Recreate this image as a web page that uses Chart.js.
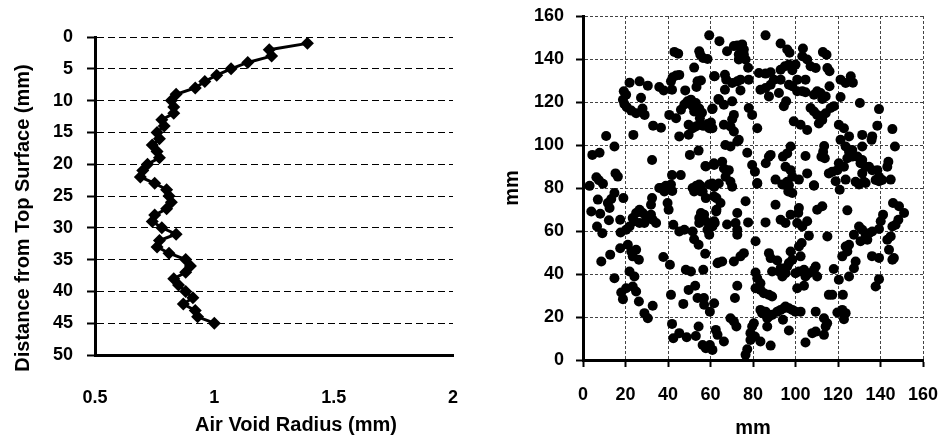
<!DOCTYPE html>
<html>
<head>
<meta charset="utf-8">
<script src="https://cdn.jsdelivr.net/npm/chart.js@4"></script>
<style>
  body { margin: 0; background: #fff; overflow: hidden; }
  .box { position: absolute; top: 0; height: 438px; }
  #leftBox { left: 0; width: 470px; }
  #rightBox { left: 470px; width: 473px; }
</style>
</head>
<body>
<div class="box" id="leftBox"><canvas id="profileChart"></canvas></div>
<div class="box" id="rightBox"><canvas id="voidChart"></canvas></div>
<script>
// left panel: air void radius vs depth
const depthMm = [1,2,3,4,5,6,7,8,9,10,11,12,13,14,15,16,17,18,19,20,21,22,23,24,25,
  26,27,28,29,30,31,32,33,34,35,36,37,38,39,40,41,42,43,44,45];
const radiusMm = [1.39,1.23,1.24,1.14,1.07,1.01,0.96,0.92,0.84,0.82,0.83,0.83,0.78,0.79,0.76,
  0.77,0.74,0.76,0.77,0.72,0.70,0.69,0.75,0.80,0.81,0.82,0.80,0.75,0.74,0.78,
  0.84,0.77,0.76,0.81,0.88,0.90,0.88,0.83,0.85,0.88,0.91,0.87,0.92,0.93,1.00];
const radiusTicks = [0.5, 1, 1.5, 2];
const depthTicks = [0, 5, 10, 15, 20, 25, 30, 35, 40, 45, 50];

// right panel: void centres in the section (mm)
const voidX = [59.4,43,44.8,54.7,55.2,56.5,58.6,52.3,61.7,42.2,
  43.8,45.3,41.4,53.9,55.5,53.4,21.9,26.6,30.5,35.9,
  38,41.9,48.1,19.2,20.3,27.3,63.7,18.8,19.5,20.6,
  22.7,25,28,29,46.1,47.7,49.2,50.8,51.6,52.3,
  53.1,54.7,56,55,61,40.6,43.8,49.7,51.6,53.1,
  54.7,56.6,58.6,60.2,60.9,59.4,33,36.7,45.3,49.7,
  23.7,10.9,14.8,4.4,7.8,50.3,54.4,32.5,57.8,61.7,
  41.9,46,15.3,16.4,6.3,7.5,9.4,3.1,36.7,39,
  41.4,42,54.7,55.5,59.4,61.7,
  64.2,85.9,93,96.1,97.2,103.5,112.9,114.6,67.8,71,
  72.6,74.9,75.7,73.3,75.7,73.3,76.5,77.7,78,62,
  66.8,67.4,70.2,72.6,74.1,66.8,74.1,82.8,85.9,88.3,
  93,95,96.9,98.5,100,103.2,105.5,107.1,109.5,115,
  116,100.8,104.7,96.9,98.5,83.5,85.9,88.3,89.8,93,
  87.5,92.2,100.8,103.2,104.7,108.7,110.2,111.8,112.6,114.2,
  116,121.2,123.6,126,127,121.2,64,66.3,70.2,94.5,
  95.6,60.8,78,79.6,71,70.2,66.3,69.4,71,82,
  107.1,108.7,110.2,112.6,114.2,116.5,118.1,99.2,102.4,105.5,
  120.4,122.8,111,112.6,130.3,139.3,138.5,145.6,125.2,131.4,
  136.1,113.5,113,112.2,113.8,121.2,123.6,125.2,126.7,124.4,
  120.4,122.8,119.7,117.3,115.7,126.7,129.1,130.6,131.4,133,
  134.6,136.1,138.5,139.3,140.8,137.7,131.4,128.3,132.2,143.7,
  143.2,146.8,131.4,135.8,97.7,96.1,94.1,95.3,97.7,98.5,
  96.1,96.9,104.7,105.5,108.7,87.5,86,88.3,77.3,79.6,
  80.9,82,67,69.4,72.6,73.3,57.6,61.6,65.5,66.3,
  68.6,67.1,69.4,70.2,63.9,60.8,
  7,3.9,8.1,6.6,9.1,11.7,13.3,14.8,12.5,12.2,
  17.5,19,17.7,8.6,12.8,14.8,17.5,21.1,22.7,25,
  23.4,26.3,21.9,24.2,18,18.8,20.3,23.4,25,26.3,
  28.9,30.5,32.8,20.3,21.9,23.4,25,26.6,28.1,29.7,
  32,32.8,34.4,28.9,26.6,24.2,32,32.5,35.9,38.3,
  39.8,40.3,37.8,40.9,41.4,41.9,42.5,45.3,48.8,47.2,
  42.5,45.3,47.7,48.4,50.8,49.7,52.8,53.9,53.1,54.4,
  51.6,52.3,54.4,56.6,57.5,57,59.7,61.7,56.3,57.8,
  59.7,60.9,62.5,63.3,51.6,53.4,55.5,56.3,57.8,52.3,
  54.7,55.5,57,57.8,54.7,58.6,59.4,60.9,61.7,62.8,
  62.8,63.3,
  82,90.6,93.8,96.1,96.6,98.5,101.6,108.7,118.9,123.6,
  129.9,133,139.3,144.8,120.8,61.6,64.7,62.7,62,67.8,
  71.8,72.6,72.6,72.6,76.5,77.7,85.9,90.6,93,95.3,
  97.7,101.3,101.6,100.8,105.5,103.2,110.2,112.6,124.4,145.9,
  148.7,151.1,148.4,147.1,145.6,140.1,141.2,139.3,129.9,131.4,
  127.5,133,134.6,136.1,133.8,130.6,115,106.3,81.2,63.9,
  65.5,71,74.1,75.7,81.2,82,83.5,81.2,83.5,85.1,
  87.5,89,87.5,88.3,91.4,89,92.2,93,93.8,95.3,
  96.1,96.9,97.7,98.5,100,101.6,102.4,101.6,102.9,104,
  104.7,106.3,108.7,109.5,110.2,100.8,104,122,124.4,123.6,
  125.2,128.3,127.5,136,139.3,143.2,144.8,144,145.6,146.3,
  118,120.4,122.3,125.2,137.7,139.3,115.7,117.3,72.6,71.5,
  56.9,69.4,71,72.2,66.3,76.5,77.3,78.8,79.6,80.4,
  80.9,78.8,83.5,84.3,85.9,86.7,87.5,89,91.4,93,
  94.5,95.3,96.9,98.5,100,102.4,94.1,86.7,83.5,88.3,
  96.9,104.7,107.9,109.5,109.5,113.4,114.9,114.2,113.4,119.7,
  122,123.6,122.8];
const voidY = [151,143.3,142.5,143.6,142,140.5,140,136,132,131.5,
  132.3,132.6,129.6,129.6,130,127,129,129.6,127.6,127,
  125.4,125.7,125.4,125,123.4,122,121.4,121,119,117.6,
  116,114.8,117,114,116.4,118.8,120.3,121.1,118,115.6,
  119.5,117,115,112.5,117,114,112.5,109.4,107.8,108.6,
  109.4,108.9,109.8,110.5,107.8,107.8,109,108,104,104.8,
  104.7,104.2,99.3,95.4,96.4,95.4,97.4,93,90,90.7,
  86,86,86.8,85.3,85,83.6,82,81,80,81,
  81.6,78.6,81.6,78.4,81.6,80.5,
  148.3,151,147.2,144.4,142.9,144.9,143.2,142,143.6,146,
  146.3,146.8,144.4,142.1,142.1,139.8,139.8,135.9,130.4,132,
  132.7,130.4,128.8,129.6,130.4,125.7,125.4,133.5,133.2,133.8,
  135,136.6,137.4,134.8,137.4,141.3,139.8,136.6,135.8,135.8,
  134.3,130.4,130.4,128,127.3,125.7,126.5,128,130.4,130.4,
  122.6,124.2,125,125,124.5,123.4,125,124.2,121.4,122.6,
  127.3,130.4,128.8,132,129,122.3,121,118.7,120.3,118,
  120.3,116.7,117.2,114,114,112,109.4,108.6,106.3,107.8,
  117.2,115.6,114,113.3,114.8,117.2,118,111,109.4,107,
  109.4,107.8,110,111.6,119.5,116.7,109,107.4,104,104.7,
  104,99.5,96.8,94.5,93.8,102.4,99.3,96.9,94.6,93.8,
  91.5,89.9,88.3,87.6,86.8,97.7,94.6,91.5,93,89.9,
  89.9,88.3,88.3,85.2,83.7,83.7,86.8,82.9,82.9,92.2,
  89.9,99.3,99.3,102.4,99.3,96.1,94.6,89.9,88.3,85.2,
  82.9,81.3,94.9,86.8,81.3,94.6,91.5,95.4,96.4,90.7,
  87.6,82,100,99.3,101.6,102.4,90.2,91.5,92.2,89.1,
  88.3,85.2,82.9,80.6,82.1,82.1,
  74.6,69.1,68,62.1,59,73,74.9,77.7,70.7,65,
  65.2,75.3,59.3,45.8,49,38,52,53.6,50.5,51.3,
  48.2,46.6,41.2,38.8,31.4,28.3,33.4,34.2,31.9,27.2,
  21.8,19.4,25.2,60.6,62.1,66,68.4,69.9,68.4,66.8,
  67.6,65.2,63.7,63.7,63.7,64.5,72.2,75.3,80,78.4,
  73,69.9,47.9,44.3,30.3,16.8,10.1,12.5,10.6,26.1,
  62.9,59.8,60.6,42,41.2,32.6,34.5,28.8,11.2,15.6,
  59.8,56.2,53.6,42,49.4,25.7,22.5,26.4,7,5.5,
  7,4.7,14,11.7,80,81.1,80.8,78.4,75.3,78.4,
  66,68.4,67.6,64.5,63.7,60.6,58.3,62.1,64.5,75.3,
  69.9,45,
  82.3,83.9,81.6,80.8,78.4,77.7,83.9,81.1,83.1,83.9,
  81.6,82.3,83.1,83.9,79.2,76.1,73,69.1,63.7,63,
  63.7,60.6,58.3,68.4,73.8,64,64,72.2,65.2,63.7,
  67.6,68.4,70.7,63.7,64.5,62.1,69.9,71.5,69.6,73,
  71.5,68.4,65.2,62.9,62.1,64.5,67.6,60.9,62.1,60.6,
  58.3,58.3,59,59.8,55.9,55.2,57.5,57.8,55.2,45.4,
  45.8,45.8,48.2,49.7,40.7,38,35.7,33.4,32.6,31.1,
  30.3,29.5,49.7,47.4,46.3,41.2,41.2,42.7,38.8,40.4,
  43.5,45.1,50.5,46.6,40.4,41.2,48.2,52.8,54.4,42,
  38.8,40.4,42,43.5,38.8,33.4,34.5,48.2,50.5,52.8,
  53.6,45.8,42.7,48.3,47.5,55.9,57.5,51.3,46.6,47.4,
  42.3,37.3,30.3,38.8,34.2,37.6,30.3,30.3,34.5,28.8,
  28.8,19.4,17.9,15.6,8.6,2.4,5,12.5,15.6,17.1,
  10.9,9.3,23.3,21.8,22.5,19.4,20.2,21,22.5,23.3,
  24.1,24.9,24.1,23.3,22.5,22.5,18.7,15.6,8.6,6.7,
  13.7,8.1,12.5,13.2,22.5,19.4,17.1,15.6,11.7,22.1,
  23.3,21.8,19];
const mmTicks = [0, 20, 40, 60, 80, 100, 120, 140, 160];

const FONT = "'Liberation Sans', Arial, sans-serif";
const tickFont = { family: FONT, size: 18, weight: 'bold' };
const titleFont = { family: FONT, size: 20, weight: 'bold', lineHeight: 1.2 };

function useTicks(values) {
    return function(scale) {
        scale.ticks = values.map(v => ({ value: v }));
    };
}

// fixed box sizes, no extra room for overhanging labels
function fixHeight(h) {
    return function(s) {
        s.height = h;
        s.paddingLeft = 0; s.paddingRight = 0; s.paddingTop = 0; s.paddingBottom = 0;
    };
}
function fixWidth(w) {
    return function(s) {
        s.width = w;
        s.paddingLeft = 0; s.paddingRight = 0; s.paddingTop = 0; s.paddingBottom = 0;
    };
}

// left panel titles sit off-centre like the original, so draw them here
const offsetTitles = {
    id: 'offsetTitles',
    afterDraw(chart, args, opts) {
        const ctx = chart.ctx;
        ctx.save();
        ctx.fillStyle = '#000';
        ctx.font = 'bold 20px ' + FONT;
        ctx.textAlign = 'center';
        ctx.textBaseline = 'middle';
        ctx.fillText(opts.xText, opts.xAt[0], opts.xAt[1]);
        ctx.translate(opts.yAt[0], opts.yAt[1]);
        ctx.rotate(-Math.PI / 2);
        ctx.fillText(opts.yText, 0, 0);
        ctx.restore();
    }
};

// Left chart
const profilePoints = depthMm.map((d, i) => ({ x: radiusMm[i], y: d }));
new Chart(document.getElementById('profileChart'), {
    type: 'scatter',
    data: {
        datasets: [{
            data: profilePoints,
            showLine: true,
            borderColor: '#000',
            borderWidth: 3,
            backgroundColor: '#000',
            pointStyle: 'rectRot',
            pointRadius: 6.5,
            pointBorderWidth: 0,
            pointHoverRadius: 6.5
        }]
    },
    plugins: [offsetTitles],
    options: {
        responsive: true,
        maintainAspectRatio: false,
        animation: false,
        events: [],
        layout: { padding: { left: 0, right: 17, top: 37, bottom: 0 } },
        plugins: {
            legend: { display: false },
            tooltip: { enabled: false },
            offsetTitles: {
                xText: 'Air Void Radius (mm)',
                xAt: [296, 425],
                yText: 'Distance from Top Surface (mm)',
                yAt: [23, 218]
            }
        },
        scales: {
            x: {
                type: 'linear',
                min: 0.5,
                max: 2,
                afterBuildTicks: useTicks(radiusTicks),
                afterFit: fixHeight(83),
                grid: { display: false },
                border: { display: true, color: '#000', width: 3 },
                ticks: {
                    color: '#000',
                    font: tickFont,
                    padding: 24,
                    maxRotation: 0,
                    callback: v => String(v)
                }
            },
            y: {
                type: 'linear',
                reverse: true,
                min: 0,
                max: 50,
                afterBuildTicks: useTicks(depthTicks),
                afterFit: fixWidth(95),
                grid: {
                    color: '#000',
                    lineWidth: 1,
                    drawTicks: true,
                    tickLength: 8,
                    tickColor: '#000',
                    tickWidth: 2
                },
                border: { display: true, color: '#000', width: 3, dash: [7, 4] },
                ticks: { color: '#000', font: tickFont, padding: 14 }
            }
        }
    }
});

// Right chart
const voidPoints = voidX.map((x, i) => ({ x: x, y: voidY[i] }));
new Chart(document.getElementById('voidChart'), {
    type: 'scatter',
    data: {
        datasets: [{
            data: voidPoints,
            backgroundColor: '#000',
            borderWidth: 0,
            pointRadius: 5,
            pointHoverRadius: 5
        }]
    },
    options: {
        responsive: true,
        maintainAspectRatio: false,
        animation: false,
        events: [],
        layout: { padding: { left: 0, right: 20, top: 16, bottom: 0 } },
        plugins: { legend: { display: false }, tooltip: { enabled: false } },
        scales: {
            x: {
                type: 'linear',
                min: 0,
                max: 160,
                afterBuildTicks: useTicks(mmTicks),
                afterFit: fixHeight(78),
                grid: {
                    color: '#444',
                    lineWidth: 1,
                    drawTicks: true,
                    tickLength: 7,
                    tickColor: '#000',
                    tickWidth: 2
                },
                border: { display: true, color: '#000', width: 3, dash: [3, 2] },
                ticks: { color: '#000', font: tickFont, padding: 17, maxRotation: 0 },
                title: {
                    display: true,
                    text: 'mm',
                    color: '#000',
                    font: { family: FONT, size: 20, weight: 'bold', lineHeight: 1 },
                    padding: { top: 0, bottom: 0 }
                }
            },
            y: {
                type: 'linear',
                min: 0,
                max: 160,
                afterBuildTicks: useTicks(mmTicks),
                afterFit: fixWidth(113),
                grid: {
                    color: '#444',
                    lineWidth: 1,
                    drawTicks: true,
                    tickLength: 7,
                    tickColor: '#000',
                    tickWidth: 2
                },
                border: { display: true, color: '#000', width: 3, dash: [3, 2] },
                ticks: { color: '#000', font: tickFont, padding: 12 },
                title: {
                    display: true,
                    text: 'mm',
                    color: '#000',
                    font: titleFont,
                    padding: { top: 30, bottom: 0 }
                }
            }
        }
    }
});
</script>
</body>
</html>
